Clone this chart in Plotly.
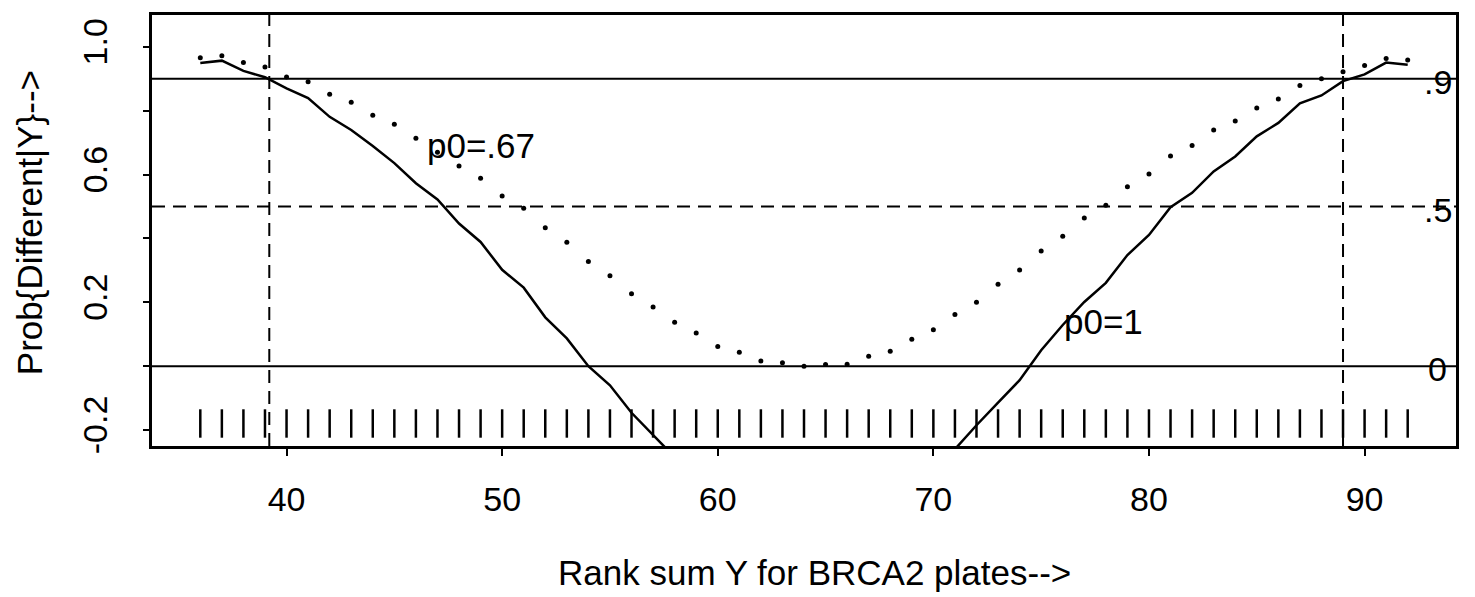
import plotly.graph_objects as go

# ---- data ----
rank_sum = list(range(36, 93))  # x = 36 .. 92

# p0 = 1 (solid curve); values between 59 and 70 fall below the visible range
p0_one = [0.950, 0.957, 0.925, 0.905, 0.870, 0.840, 0.781, 0.740, 0.690, 0.636,
          0.573, 0.522, 0.447, 0.389, 0.302, 0.246, 0.153, 0.087, 0.000, -0.060,
          -0.146, -0.215, -0.285, None, None, None, None, None, None, None,
          None, None, None, None, None, -0.260, -0.185, -0.114, -0.044, 0.050,
          0.129, 0.201, 0.261, 0.348, 0.411, 0.498, 0.543, 0.610, 0.657, 0.720,
          0.762, 0.823, 0.848, 0.893, 0.914, 0.951, 0.944]

# p0 = .67 (dotted points)
p0_067 = [0.966, 0.972, 0.951, 0.937, 0.906, 0.891, 0.852, 0.827, 0.786, 0.758,
          0.714, 0.670, 0.627, 0.589, 0.533, 0.495, 0.434, 0.388, 0.328, 0.283,
          0.227, 0.185, 0.138, 0.104, 0.062, 0.044, 0.016, 0.011, 0.000, 0.005,
          0.006, 0.031, 0.047, 0.084, 0.114, 0.162, 0.200, 0.257, 0.301, 0.361,
          0.407, 0.464, 0.504, 0.562, 0.602, 0.658, 0.691, 0.740, 0.768, 0.809,
          0.837, 0.879, 0.900, 0.922, 0.942, 0.964, 0.959]

solid_hlines = [0.9, 0.0]
dashed_hlines = [0.5]
dashed_vlines = [39.2, 89.0]
right_labels = [".9", ".5", "0"]
right_label_y = [0.9, 0.5, 0.0]

x_ticks = [40, 50, 60, 70, 80, 90]
y_ticks = [-0.2, 0.0, 0.2, 0.4, 0.6, 0.8, 1.0]
y_ticktext = ["-0.2", "", "0.2", "", "0.6", "", "1.0"]

curve_labels = ["p0=.67", "p0=1"]
curve_label_x = [49.0, 77.9]
curve_label_y = [0.69, 0.14]

x_title = "Rank sum Y for BRCA2 plates-->"
y_title = "Prob{Different|Y}-->"

FONT = "Liberation Sans, Arial, Helvetica, sans-serif"

fig = go.Figure()

# rug ticks at each rank-sum value
rug_x, rug_y = [], []
for xv in rank_sum:
    rug_x += [xv, xv, None]
    rug_y += [-0.224, -0.135, None]
fig.add_trace(go.Scatter(x=rug_x, y=rug_y, mode="lines",
                         line=dict(color="black", width=2.5),
                         showlegend=False, hoverinfo="skip"))

fig.add_trace(go.Scatter(x=rank_sum, y=p0_one, mode="lines",
                         line=dict(color="black", width=2.5),
                         connectgaps=False, showlegend=False, name="p0=1"))
fig.add_trace(go.Scatter(x=rank_sum, y=p0_067, mode="markers",
                         marker=dict(color="black", size=5),
                         showlegend=False, name="p0=.67"))

for yv in solid_hlines:
    fig.add_shape(type="line", xref="paper", x0=0, x1=1, yref="y", y0=yv, y1=yv,
                  line=dict(color="black", width=2))
for yv in dashed_hlines:
    fig.add_shape(type="line", xref="paper", x0=0, x1=1, yref="y", y0=yv, y1=yv,
                  line=dict(color="black", width=2, dash="13px,8px"))
for xv in dashed_vlines:
    fig.add_shape(type="line", xref="x", x0=xv, x1=xv, yref="paper", y0=0, y1=1,
                  line=dict(color="black", width=2, dash="13px,8px"))

for t, yv in zip(right_labels, right_label_y):
    fig.add_annotation(x=93.4, y=yv, xref="x", yref="y", text=t, showarrow=False,
                       xanchor="center", yanchor="middle", yshift=-3,
                       font=dict(family=FONT, size=34, color="black"))

for t, xv, yv in zip(curve_labels, curve_label_x, curve_label_y):
    fig.add_annotation(x=xv, y=yv, xref="x", yref="y", text=t, showarrow=False,
                       xanchor="center", yanchor="middle",
                       font=dict(family=FONT, size=35, color="black"))

fig.add_annotation(x=0.508, y=-0.293, xref="paper", yref="paper", text=x_title,
                   showarrow=False, xanchor="center", yanchor="middle",
                   font=dict(family=FONT, size=35, color="black"))
fig.add_annotation(x=-0.094, y=0.518, xref="paper", yref="paper", text=y_title,
                   showarrow=False, xanchor="center", yanchor="middle", textangle=-90,
                   font=dict(family=FONT, size=35, color="black"))

# the page body adds an 8px offset, so the figure is sized 8px smaller
fig.update_layout(
    width=1467, height=589,
    margin=dict(l=144, r=19, t=4, b=151, pad=0),
    paper_bgcolor="white", plot_bgcolor="white",
    font=dict(family=FONT, color="black"),
    xaxis=dict(range=[33.76, 94.24], tickvals=x_ticks, ticks="outside", ticklen=7,
               tickwidth=2, tickcolor="black", showline=True, linewidth=2.5,
               linecolor="black", mirror=True, showgrid=False, zeroline=False,
               tickfont=dict(family=FONT, size=34, color="black"),
               ticklabelstandoff=14),
    yaxis=dict(range=[-0.25, 1.10], tickvals=y_ticks, ticktext=y_ticktext,
               ticks="outside", ticklen=6, tickwidth=2, tickcolor="black",
               showline=True, linewidth=2.5, linecolor="black", mirror=True,
               showgrid=False, zeroline=False, tickangle=-90,
               tickfont=dict(family=FONT, size=34, color="black"),
               ticklabelstandoff=23),
)

fig.write_html("out.html")
